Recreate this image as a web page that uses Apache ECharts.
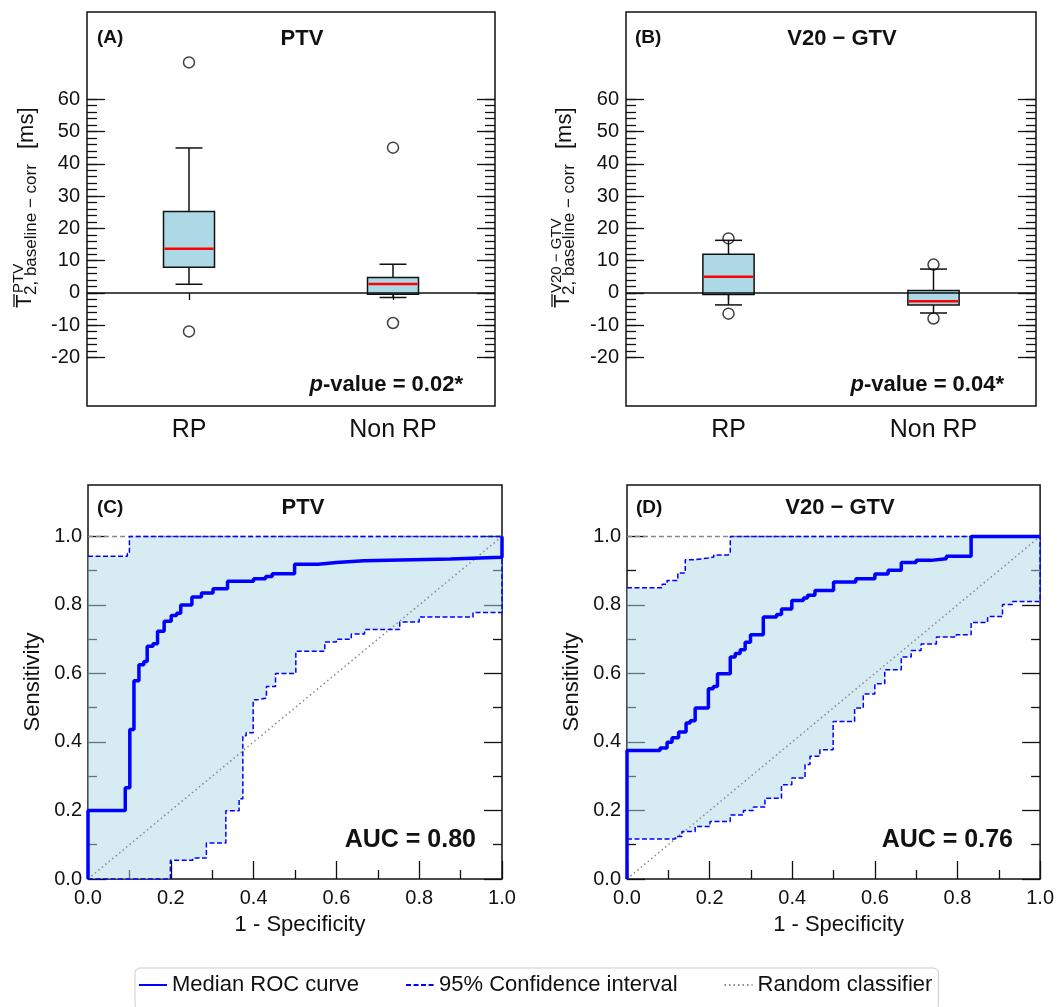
<!DOCTYPE html>
<html><head><meta charset="utf-8">
<script src="https://cdn.jsdelivr.net/npm/echarts@6/dist/echarts.min.js"></script>
<style>html,body{margin:0;padding:0;background:#fff}#c{width:1057px;height:1007px}</style>
</head><body><div id="c"></div>
<script>
// ---------------- data ----------------
const boxCategories = ['RP', 'Non RP'];
// [lower whisker, Q1, median, Q3, upper whisker]
const ptvBoxStats = [[2.7, 8.0, 13.7, 25.2, 44.9], [-1.4, -0.4, 2.8, 4.8, 8.9]];
const ptvOutliers = [[0, 71.4], [0, -11.9], [1, 45.0], [1, -9.3]];
const gtvBoxStats = [[-3.7, -0.5, 5.0, 12.0, 16.3], [-6.2, -3.7, -2.6, 0.8, 7.4]];
const gtvOutliers = [[0, 16.9], [0, -6.4], [1, 8.8], [1, -7.9]];
const boxMajorTicks = [-20, -10, 0, 10, 20, 30, 40, 50, 60];
const boxMinorTicks = [-20,-18,-16,-14,-12,-10,-8,-6,-4,-2,0,2,4,6,8,10,12,14,16,18,20,22,24,26,28,30,32,34,36,38,40,42,44,46,48,50,52,54,56,58,60];
const rocMajorTicks = [0, 0.2, 0.4, 0.6, 0.8, 1.0];
const rocMinorTicks = [0.1, 0.3, 0.5, 0.7, 0.9];

// ROC step curves: [fpr, tpr] where tpr jumps at fpr
const medianC = [[0,0],[0,0.2],[0.09,0.266],[0.101,0.436],[0.111,0.579],[0.123,0.625],[0.135,0.635],[0.143,0.679],[0.157,0.687],[0.168,0.723],[0.184,0.752],[0.201,0.769],[0.214,0.776],[0.224,0.800],[0.251,0.823],[0.274,0.835],[0.302,0.847],[0.337,0.869],[0.400,0.876],[0.429,0.883],[0.445,0.891],[0.499,0.919],[0.556,0.924],[0.600,0.929],[0.666,0.934],[0.875,0.939],[1.0,1.0]];
const upperC = [[0,0.942],[0.07,0.942],[0.095,0.95],[0.1,1.0],[1.0,1.0]];
const lowerC = [[0,0],[0.199,0.055],[0.253,0.061],[0.286,0.105],[0.333,0.199],[0.365,0.234],[0.374,0.418],[0.382,0.427],[0.399,0.523],[0.408,0.528],[0.431,0.562],[0.453,0.600],[0.502,0.665],[0.572,0.692],[0.600,0.700],[0.636,0.715],[0.668,0.728],[0.753,0.750],[0.800,0.765],[0.930,0.778],[1.0,1.0]];
const medianD = [[0,0],[0,0.375],[0.080,0.382],[0.097,0.399],[0.109,0.412],[0.125,0.429],[0.143,0.455],[0.153,0.462],[0.165,0.499],[0.197,0.555],[0.209,0.562],[0.219,0.599],[0.250,0.648],[0.262,0.658],[0.274,0.669],[0.286,0.691],[0.299,0.713],[0.330,0.765],[0.362,0.772],[0.374,0.788],[0.399,0.813],[0.427,0.820],[0.437,0.828],[0.455,0.842],[0.500,0.867],[0.554,0.876],[0.600,0.890],[0.632,0.901],[0.664,0.924],[0.700,0.930],[0.736,0.935],[0.773,0.942],[0.833,1.0],[1.0,1.0]];
const upperD = [[0,0.85],[0.068,0.85],[0.085,0.86],[0.097,0.871],[0.123,0.893],[0.141,0.932],[0.166,0.937],[0.197,0.940],[0.210,0.946],[0.245,0.949],[0.250,1.0],[1.0,1.0]];
const lowerD = [[0,0.117],[0.076,0.117],[0.117,0.124],[0.133,0.139],[0.165,0.153],[0.201,0.168],[0.25,0.187],[0.282,0.2],[0.306,0.210],[0.334,0.236],[0.374,0.275],[0.399,0.295],[0.431,0.334],[0.443,0.358],[0.467,0.377],[0.499,0.460],[0.551,0.499],[0.572,0.540],[0.600,0.570],[0.624,0.611],[0.664,0.648],[0.688,0.667],[0.712,0.686],[0.749,0.706],[0.797,0.713],[0.833,0.749],[0.873,0.766],[0.909,0.801],[0.933,0.810],[1.0,1.0]];
const randomLine = [[0,0],[1,1]];
const perfectLine = [[0,1],[1,1]];

// ---------------- helpers ----------------
const FONT = '"Liberation Sans", Arial, sans-serif';
const INK = '#111';
function stepVertices(pts) {
  const out = [pts[0]];
  for (let i = 1; i < pts.length; i++) { out.push([pts[i][0], pts[i - 1][1]]); out.push(pts[i]); }
  return out;
}
function tick(len, values) {
  return { show: true, inside: true, length: len, customValues: values, lineStyle: { color: INK, width: 1.3 } };
}
function yAx(grid, min, max, pos, len, values, label) {
  return {
    type: 'value', gridIndex: grid, min: min, max: max, position: pos,
    axisLine: { show: false }, splitLine: { show: false },
    axisTick: tick(len, values),
    axisLabel: label ? label : { show: false }
  };
}
function boxAxes(grid) {
  const lbl = { customValues: boxMajorTicks, fontSize: 20, color: INK, fontFamily: FONT, margin: 7 };
  return [
    yAx(grid, -35, 87, 'left', 18, boxMajorTicks, lbl),
    yAx(grid, -35, 87, 'left', 10, boxMinorTicks),
    yAx(grid, -35, 87, 'right', 18, boxMajorTicks),
    yAx(grid, -35, 87, 'right', 10, boxMinorTicks)
  ];
}
function rocYAxes(grid) {
  const lbl = { customValues: rocMajorTicks, fontSize: 20, color: INK, fontFamily: FONT, margin: 6, formatter: v => (+v).toFixed(1) };
  const a = yAx(grid, 0, 1.15, 'left', 18, rocMajorTicks, lbl);
  a.name = 'Sensitivity'; a.nameLocation = 'middle'; a.nameGap = 44;
  a.nameTextStyle = { fontSize: 22, color: INK, fontFamily: FONT };
  return [a,
    yAx(grid, 0, 1.15, 'left', 9, rocMinorTicks),
    yAx(grid, 0, 1.15, 'right', 18, rocMajorTicks),
    yAx(grid, 0, 1.15, 'right', 9, rocMinorTicks)];
}
function rocXAxes(grid) {
  return [{
    type: 'value', gridIndex: grid, min: 0, max: 1, position: 'bottom',
    axisLine: { show: false }, splitLine: { show: false },
    axisTick: tick(18, rocMajorTicks),
    axisLabel: { customValues: rocMajorTicks, fontSize: 20, color: INK, fontFamily: FONT, margin: 9, formatter: v => (+v).toFixed(1) },
    name: '1 - Specificity', nameLocation: 'middle', nameGap: 35,
    nameTextStyle: { fontSize: 22, color: INK, fontFamily: FONT, padding: [0, 0, 0, 10] }
  }, {
    type: 'value', gridIndex: grid, min: 0, max: 1, position: 'bottom',
    axisLine: { show: false }, splitLine: { show: false },
    axisTick: tick(9, rocMinorTicks), axisLabel: { show: false }
  }];
}
function catAxis(grid) {
  return {
    type: 'category', gridIndex: grid, data: boxCategories,
    axisLine: { show: false }, splitLine: { show: false },
    axisTick: { show: true, alignWithLabel: true, inside: false, length: 7, lineStyle: { color: INK, width: 1.3 } },
    axisLabel: { fontSize: 25, color: INK, fontFamily: FONT, margin: 12 }
  };
}
function boxRender(params, api) {
  const c = api.value(0);
  const lo = api.value(1), q1 = api.value(2), med = api.value(3), q3 = api.value(4), hi = api.value(5);
  const bw = api.size([1, 0])[0];
  const half = bw * 0.125, capHalf = bw * 0.066;
  const pLo = api.coord([c, lo]), pQ1 = api.coord([c, q1]), pMed = api.coord([c, med]),
        pQ3 = api.coord([c, q3]), pHi = api.coord([c, hi]);
  const x = pMed[0];
  const ls = { stroke: INK, lineWidth: 1.5 };
  return { type: 'group', children: [
    { type: 'line', shape: { x1: x, y1: pQ3[1], x2: x, y2: pHi[1] }, style: ls },
    { type: 'line', shape: { x1: x, y1: pQ1[1], x2: x, y2: pLo[1] }, style: ls },
    { type: 'line', shape: { x1: x - capHalf, y1: pHi[1], x2: x + capHalf, y2: pHi[1] }, style: ls },
    { type: 'line', shape: { x1: x - capHalf, y1: pLo[1], x2: x + capHalf, y2: pLo[1] }, style: ls },
    { type: 'rect', shape: { x: x - half, y: pQ3[1], width: 2 * half, height: pQ1[1] - pQ3[1] }, style: { fill: '#add8e6', stroke: INK, lineWidth: 1.5 } },
    { type: 'line', shape: { x1: x - half + 1, y1: pMed[1], x2: x + half - 1, y2: pMed[1] }, style: { stroke: '#ff0000', lineWidth: 2.5 } }
  ]};
}
function boxSeries(xi, yi, stats, outliers) {
  return [{
    type: 'custom', xAxisIndex: xi, yAxisIndex: yi, renderItem: boxRender, z: 3,
    encode: { x: 0, y: [1, 2, 3, 4, 5] },
    data: stats.map((s, i) => [i].concat(s))
  }, {
    type: 'scatter', xAxisIndex: xi, yAxisIndex: yi, symbol: 'circle', symbolSize: 11, z: 4,
    itemStyle: { color: 'rgba(0,0,0,0)', borderColor: INK, borderWidth: 1.5 },
    data: outliers,
    markLine: { silent: true, symbol: ['none', 'none'], label: { show: false }, animation: false,
      lineStyle: { color: INK, width: 1.5, type: 'solid' }, data: [{ yAxis: 0 }] }
  }];
}
function rocSeries(xi, yi, median, upper, lower) {
  const poly = stepVertices(upper).concat(stepVertices(lower).reverse());
  const ci = { color: '#0000ff', width: 1.5, type: [5, 2.5] };
  return [{
    type: 'custom', xAxisIndex: xi, yAxisIndex: yi, z: 2, silent: true,
    data: [[0, 0]], encode: { x: 0, y: 1 },
    renderItem: (params, api) => ({ type: 'polygon', shape: { points: poly.map(p => api.coord(p)) }, style: { fill: 'rgba(173,216,230,0.5)' } })
  }, {
    type: 'line', xAxisIndex: xi, yAxisIndex: yi, data: perfectLine, symbol: 'none', z: 3,
    lineStyle: { color: '#888', width: 1.5, type: [5, 3] }
  }, {
    name: 'Random classifier', type: 'line', xAxisIndex: xi, yAxisIndex: yi, data: randomLine, symbol: 'none', z: 3,
    itemStyle: { color: '#888' }, lineStyle: { color: '#888', width: 1.5, type: [1.5, 3] }
  }, {
    name: '95% Confidence interval', type: 'line', step: 'end', xAxisIndex: xi, yAxisIndex: yi, data: upper, symbol: 'none', z: 4,
    itemStyle: { color: '#0000ff' }, lineStyle: ci
  }, {
    name: '95% Confidence interval', type: 'line', step: 'end', xAxisIndex: xi, yAxisIndex: yi, data: lower, symbol: 'none', z: 4,
    itemStyle: { color: '#0000ff' }, lineStyle: ci
  }, {
    name: 'Median ROC curve', type: 'line', step: 'end', xAxisIndex: xi, yAxisIndex: yi, data: median, symbol: 'none', z: 5,
    itemStyle: { color: '#0000ff' }, lineStyle: { color: '#0000ff', width: 3.5 }
  }];
}
function txt(x, y, text, font, align, extra) {
  return Object.assign({ type: 'text', x: x, y: y, z: 100,
    style: { text: text, font: font, fill: INK, textAlign: align || 'left', textVerticalAlign: 'middle' } }, extra || {});
}
function rtxt(x, y, text, size) {
  return { type: 'text', x: x, y: y, rotation: Math.PI / 2, z: 100,
    style: { text: text, font: size + 'px ' + FONT, fill: INK, textAlign: 'left', textVerticalAlign: 'middle' } };
}
function pval(xRight, y, value) {
  return { type: 'text', x: xRight, y: y, z: 100, style: {
    text: '{i|p}{b|-value = ' + value + '}', textAlign: 'right', textVerticalAlign: 'middle', fill: INK,
    rich: { i: { font: 'italic bold 22px ' + FONT, fill: INK }, b: { font: 'bold 22px ' + FONT, fill: INK } } } };
}
function yLabel(dx, sup) {
  return [
    { type: 'line', z: 100, shape: { x1: 14 + dx, y1: 307, x2: 14 + dx, y2: 294 }, style: { stroke: INK, lineWidth: 1.3 } },
    rtxt(24.5 + dx, 308, 'T', 22),
    rtxt(31.5 + dx, 295, '2, baseline \u2212 corr', 17),
    rtxt(19 + dx, 293, sup, 15),
    rtxt(26.5 + dx, 149, '[ms]', 22)
  ];
}

const grids = [
  { left: 87, top: 12, width: 408, height: 394 },
  { left: 626, top: 12, width: 410, height: 394 },
  { left: 88, top: 485, width: 414, height: 394 },
  { left: 627, top: 485, width: 414, height: 394 }
].map(g => Object.assign({ show: true, borderColor: INK, borderWidth: 1.5, backgroundColor: 'transparent', containLabel: false }, g));

const xAxes = [catAxis(0), catAxis(1)].concat(rocXAxes(2), rocXAxes(3));
const yAxes = [].concat(boxAxes(0), boxAxes(1), rocYAxes(2), rocYAxes(3));

const series = [].concat(
  boxSeries(0, 0, ptvBoxStats, ptvOutliers),
  boxSeries(1, 4, gtvBoxStats, gtvOutliers),
  rocSeries(2, 8, medianC, upperC, lowerC),
  rocSeries(4, 12, medianD, upperD, lowerD)
);

const B = 'bold ';
const graphics = [].concat(
  [txt(97, 38, '(A)', B + '19px ' + FONT), txt(302, 39, 'PTV', B + '22px ' + FONT, 'center'), pval(463, 385, '0.02*'),
   txt(635, 38, '(B)', B + '19px ' + FONT), txt(842, 39, 'V20 \u2212 GTV', B + '22px ' + FONT, 'center'), pval(1004, 385, '0.04*'),
   txt(97, 508, '(C)', B + '19px ' + FONT), txt(303, 508, 'PTV', B + '22px ' + FONT, 'center'), txt(476, 840, 'AUC = 0.80', B + '25px ' + FONT, 'right'),
   txt(636, 508, '(D)', B + '19px ' + FONT), txt(840, 508, 'V20 \u2212 GTV', B + '22px ' + FONT, 'center'), txt(1013, 840, 'AUC = 0.76', B + '25px ' + FONT, 'right')],
  yLabel(0, 'PTV'),
  yLabel(538, 'V20 \u2212 GTV')
);

const chart = echarts.init(document.getElementById('c'), null, { renderer: 'canvas' });
chart.setOption({
  animation: false,
  backgroundColor: '#fff',
  grid: grids,
  xAxis: xAxes,
  yAxis: yAxes,
  series: series,
  legend: {
    data: ['Median ROC curve', '95% Confidence interval', 'Random classifier'],
    left: 135, top: 968, itemGap: 46, itemWidth: 28, itemHeight: 14,
    itemStyle: { opacity: 0 },
    textStyle: { fontSize: 22, color: INK, fontFamily: FONT },
    borderColor: '#ccc', borderWidth: 1, borderRadius: 5, padding: [6, 6, 14, 3],
    selectedMode: false
  },
  graphic: graphics
});
</script></body></html>
